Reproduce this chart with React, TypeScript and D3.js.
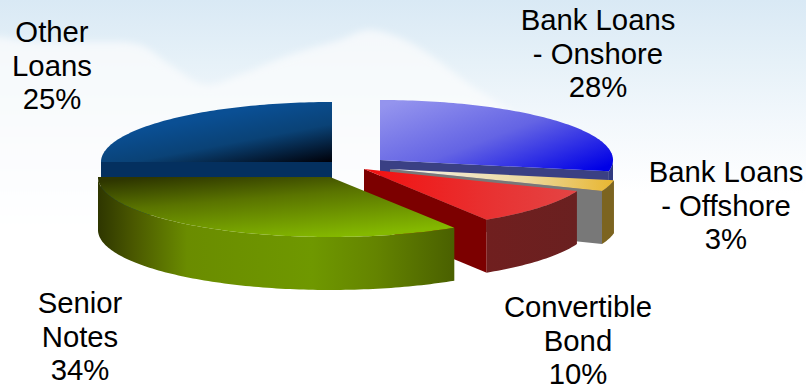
import React from "react";
import * as d3 from "d3";

// Share of total debt by funding source, clockwise from twelve o'clock.
const categories = ["Bank Loans - Onshore", "Bank Loans - Offshore", "Convertible Bond", "Senior Notes", "Other Loans"];
const shares = [28, 3, 10, 34, 25];
const labelLines = [["Bank Loans", "- Onshore"], ["Bank Loans", "- Offshore"], ["Convertible", "Bond"], ["Senior", "Notes"], ["Other", "Loans"]];

// Layout of each exploded wedge and its caption.
const apexX = [380, 390, 364, 330, 332];
const apexY = [160, 169, 169, 177, 162];
const radiusX = [233, 228, 229, 232, 231];
const labelX = [598, 726, 578, 80, 52];
const labelY = [30, 182, 317, 313, 42];
const paintOrder = [4, 0, 1, 2, 3];

const RY = 60;
const DEPTH = 53;
const LINE = 33.5;
const W = 806;
const H = 387;

const topStops = [
  [["0%", "#9494ee"], ["50%", "#6464e4"], ["100%", "#0000e6"]],
  [["0%", "#f6f4f0"], ["60%", "#ecd9a0"], ["100%", "#e8b630"]],
  [["0%", "#f21010"], ["60%", "#e83232"], ["100%", "#e44444"]],
  [["0%", "#2e3600"], ["40%", "#5a7400"], ["100%", "#84b800"]],
  [["0%", "#0a4f94"], ["45%", "#0a4276"], ["100%", "#000008"]],
];
const topVector = [[0, 0.1, 1, 0.9], [0, 0, 1, 0], [0, 0, 1, 0], [0.15, 0, 0.65, 1], [0.45, 0.25, 1, 1]];
const outerStops = [
  [["0%", "#303a80"], ["100%", "#303a80"]],
  [["0%", "#7c6420"], ["100%", "#7c6420"]],
  [["0%", "#701f1f"], ["100%", "#6a2020"]],
  [["0%", "#2e3600"], ["10%", "#4a5800"], ["25%", "#6a8c00"], ["60%", "#6f9800"], ["78%", "#648400"], ["100%", "#4a6000"]],
  [["0%", "#042c58"], ["100%", "#003a72"]],
];
const cutFill = ["#3a4084", "#787878", "#7c0000", "#4a5400", "#04305f"];

// Upper edge of the cloud bank behind the pie.
const cloudEdge: [number, number][] = [
  [-20, 34], [40, 42], [90, 42], [140, 45], [170, 65], [205, 85], [240, 75], [290, 55], [340, 40], [368, 30],
  [400, 38], [430, 55], [470, 85], [515, 115], [560, 160], [600, 205],
];

const arcs = d3.pie<number>().sort(null).startAngle(0).endAngle(2 * Math.PI)(shares);
const line = d3.line<[number, number]>();
const cloudPath = d3.line<[number, number]>().curve(d3.curveCatmullRom)(cloudEdge) + `L600,240L-20,240Z`;

function arcPoints(i: number, from: number, to: number, drop: number): [number, number][] {
  const steps = Math.max(2, Math.ceil(Math.abs(to - from) / 0.02));
  return d3.range(steps + 1).map((s) => {
    const a = from + ((to - from) * s) / steps;
    return [apexX[i] + radiusX[i] * Math.sin(a), apexY[i] + drop - RY * Math.cos(a)] as [number, number];
  });
}

function Wedge({ i }: { i: number }) {
  const { startAngle: a0, endAngle: a1 } = arcs[i];
  const apex: [number, number] = [apexX[i], apexY[i]];
  const apexLow: [number, number] = [apexX[i], apexY[i] + DEPTH];
  const top = line([apex, ...arcPoints(i, a0, a1, 0)]) + "Z";

  const right = Math.PI / 2;
  const left = (3 * Math.PI) / 2;
  const from = Math.max(a0, right);
  const to = Math.min(a1, left);
  const outer = from < to ? line([...arcPoints(i, from, to, 0), ...arcPoints(i, to, from, DEPTH)]) + "Z" : null;

  const edge = (a: number) => {
    const [p] = arcPoints(i, a, a + 0.01, 0);
    return line([apex, p, [p[0], p[1] + DEPTH], apexLow]) + "Z";
  };
  const endFaces = a1 > right && a1 < Math.PI;
  const startFaces = a0 > Math.PI && a0 < 2 * Math.PI;

  return (
    <g>
      {endFaces && <path d={edge(a1)} fill={cutFill[i]} />}
      {startFaces && <path d={edge(a0)} fill={cutFill[i]} />}
      {outer && <path d={outer} fill={`url(#outer${i})`} />}
      <path d={top} fill={`url(#top${i})`} />
    </g>
  );
}

export default function App() {
  return (
    <svg width={W} height={H} viewBox={`0 0 ${W} ${H}`} style={{ position: "absolute", left: 0, top: 0 }}>
      <defs>
        <linearGradient id="sky" x1="0" y1="0" x2="0" y2="1">
          <stop offset="0%" stopColor="#d9e9f5" />
          <stop offset="16%" stopColor="#e6f1f8" />
          <stop offset="32%" stopColor="#f3f8fc" />
          <stop offset="50%" stopColor="#ffffff" />
        </linearGradient>
        <linearGradient id="cloud" x1="0" y1="0" x2="0" y2="1">
          <stop offset="0%" stopColor="#f4f8fb" />
          <stop offset="70%" stopColor="#fcfdfe" />
          <stop offset="100%" stopColor="#ffffff" />
        </linearGradient>
        <filter id="soft" x="-10%" y="-10%" width="120%" height="120%">
          <feGaussianBlur stdDeviation="3.5" />
        </filter>
        {categories.map((_, i) => (
          <React.Fragment key={i}>
            <linearGradient id={`top${i}`} x1={topVector[i][0]} y1={topVector[i][1]} x2={topVector[i][2]} y2={topVector[i][3]}>
              {topStops[i].map(([o, c]) => <stop key={o} offset={o} stopColor={c} />)}
            </linearGradient>
            <linearGradient id={`outer${i}`} x1="0" y1="0" x2="1" y2="0">
              {outerStops[i].map(([o, c]) => <stop key={o} offset={o} stopColor={c} />)}
            </linearGradient>
          </React.Fragment>
        ))}
      </defs>
      <rect width={W} height={H} fill="url(#sky)" />
      <path d={cloudPath} fill="url(#cloud)" filter="url(#soft)" />
      {paintOrder.map((i) => <Wedge key={i} i={i} />)}
      <g fontFamily="'Liberation Sans', Arial, sans-serif" fontSize={29.3} fill="#000" textAnchor="middle">
        {categories.map((_, i) => (
          <text key={i} x={labelX[i]} y={labelY[i]}>
            {[...labelLines[i], `${shares[i]}%`].map((t, k) => (
              <tspan key={k} x={labelX[i]} y={labelY[i] + k * LINE}>{t}</tspan>
            ))}
          </text>
        ))}
      </g>
    </svg>
  );
}
